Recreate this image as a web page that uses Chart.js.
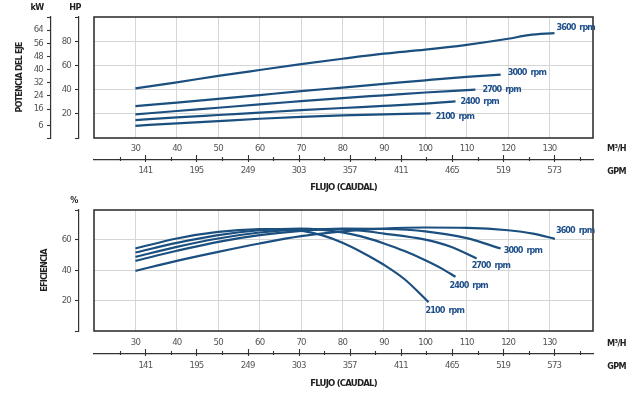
<!DOCTYPE html>
<html><head><meta charset="utf-8">
<script src="https://cdn.jsdelivr.net/npm/chart.js@4.4.1/dist/chart.umd.min.js"></script>
<style>
html,body{margin:0;padding:0;background:#fff;width:635px;height:399px;overflow:hidden;}
#wrap{position:relative;width:635px;height:399px;}
canvas{position:absolute;left:0;}
.lbl{position:absolute;font-family:'Liberation Sans Narrow','DejaVu Sans Condensed',Roboto,sans-serif;font-weight:bold;font-size:9px;letter-spacing:-0.6px;color:#222;line-height:10px;white-space:nowrap;}
.c{transform:translate(-50%,-50%);}
.r{transform:translate(-100%,-50%);}
</style></head>
<body><div id="wrap">
<canvas id="c1" width="635" height="196" style="top:0"></canvas>
<canvas id="c2" width="635" height="203" style="top:196px"></canvas>
<div class="lbl c" style="left:37px;top:7px">kW</div>
<div class="lbl c" style="left:75px;top:7px">HP</div>
<div class="lbl c" style="left:74px;top:200px">%</div>
<div class="lbl r" style="left:626px;top:148px">M³/H</div>
<div class="lbl r" style="left:626px;top:171px">GPM</div>
<div class="lbl r" style="left:626px;top:343px">M³/H</div>
<div class="lbl r" style="left:626px;top:366px">GPM</div>
</div>
<script>
const FONT = "'Liberation Sans Narrow','DejaVu Sans Condensed',Roboto,sans-serif";
Chart.defaults.font.family = FONT;

// ---------- data ----------
const RPM = ['3600 rpm', '3000 rpm', '2700 rpm', '2400 rpm', '2100 rpm'];
const FLOW_TICKS = [30, 40, 50, 60, 70, 80, 90, 100, 110, 120, 130];          // M³/H
const GPM_TICKS = [114, 141, 168, 195, 222, 249, 276, 303, 330, 357, 384, 411, 438, 465, 492, 519, 546, 573, 600];
const GPM_LABELED = [141, 195, 249, 303, 357, 411, 465, 519, 573];
const HP_TICKS = [20, 40, 60, 80];
const KW_TICKS = [6, 16, 24, 32, 40, 48, 56, 64];
const PCT_TICKS = [20, 40, 60];

// Shaft power (HP) vs flow (M³/H)
const P3600_Q = [30, 40, 50, 60, 70, 80, 90, 100, 110, 120, 125, 131.2];
const P3600_HP = [41, 46, 51.3, 56.2, 61, 65.5, 69.7, 73, 77, 82, 85, 86.7];
const P3000_Q = [30, 40, 50, 60, 70, 80, 90, 100, 110, 118.2];
const P3000_HP = [26.3, 29.3, 32.3, 35.5, 38.7, 41.7, 44.7, 47.7, 50.5, 52.4];
const P2700_Q = [30, 40, 50, 60, 70, 80, 90, 100, 112.1];
const P2700_HP = [19.5, 22.3, 25, 27.8, 30.4, 33, 35.3, 37.6, 40];
const P2400_Q = [30, 40, 50, 60, 70, 80, 90, 100, 107.3];
const P2400_HP = [14.8, 17, 19, 21, 23, 24.8, 26.5, 28.4, 30.2];
const P2100_Q = [30, 40, 50, 60, 70, 80, 90, 101.3];
const P2100_HP = [10.1, 12.1, 14, 15.9, 17.5, 18.7, 19.6, 20.3];

// Efficiency (%) vs flow (M³/H)
const E3600_Q = [30, 40, 50, 60, 70, 80, 90, 100, 110, 120, 126, 131.3];
const E3600 = [39.5, 46.1, 52, 57.5, 62.3, 65.5, 67.3, 68, 67.8, 66.2, 64, 60.5];
const E3000_Q = [30, 40, 50, 60, 70, 80, 90, 100, 110, 118.2];
const E3000 = [46.1, 52.7, 58.6, 63, 65.8, 67.2, 67, 65.5, 61, 54.2];
const E2700_Q = [30, 40, 50, 60, 70, 80, 90, 100, 106, 112.4];
const E2700 = [48.7, 55.3, 60.8, 64.7, 66.8, 67, 64, 60, 55.5, 47.7];
const E2400_Q = [30, 40, 50, 60, 70, 80, 86, 90, 95, 100, 104, 107.3];
const E2400 = [51.6, 57.9, 63, 66.2, 67.3, 64.8, 61, 57.5, 52.5, 46.5, 41, 35.6];
const E2100_Q = [30, 40, 50, 60, 65, 70, 75, 80, 85, 90, 95, 100.8];
const E2100 = [54.2, 60.8, 65.1, 66.9, 67, 66, 63, 58, 51.3, 43.5, 34, 19];

// ---------- styles ----------
const LINE = '#1b4f7f', LABEL = '#1e4f8a', GRID = '#d6d6d6', AXIS = '#333', TICK = '#555';

function pts(q, v) { return q.map((x, i) => ({ x: x, y: v[i] })); }

const condensePlugin = {
  id: 'condense',
  beforeUpdate(chart) { chart.ctx.letterSpacing = '-0.8px'; },
  beforeDraw(chart) { chart.ctx.letterSpacing = '-0.8px'; }
};
const boxPlugin = {
  id: 'box',
  beforeDatasetsDraw(chart) {
    const { ctx, chartArea: a } = chart;
    ctx.save(); ctx.strokeStyle = AXIS; ctx.lineWidth = 1.6;
    ctx.strokeRect(a.left, a.top, a.right - a.left, a.bottom - a.top);
    ctx.restore();
  }
};
const gpmTickPlugin = {
  id: 'gpmTicks',
  afterDraw(chart) {
    const s = chart.scales.gpm, ctx = chart.ctx;
    ctx.save(); ctx.strokeStyle = AXIS; ctx.lineWidth = 1.1;
    s.ticks.forEach(t => {
      const x = Math.round(s.getPixelForValue(t.value)) + 0.5;
      const major = GPM_LABELED.includes(t.value);
      ctx.beginPath(); ctx.moveTo(x, s.top - (major ? 5 : 3)); ctx.lineTo(x, s.top + (major ? 2 : 1)); ctx.stroke();
    });
    ctx.restore();
  }
};
const rpmLabelPlugin = {
  id: 'rpmLabels',
  afterDatasetsDraw(chart, args, opts) {
    const ctx = chart.ctx;
    ctx.save();
    ctx.letterSpacing = '-0.9px';
    ctx.wordSpacing = '2px';
    ctx.font = 'bold ' + opts.size + 'px ' + FONT;
    ctx.fillStyle = LABEL; ctx.textAlign = 'left'; ctx.textBaseline = 'middle';
    chart.data.datasets.forEach((d, i) => {
      const el = chart.getDatasetMeta(i).data;
      const p = el[el.length - 1];
      const o = opts.offsets[i];
      ctx.fillText(d.label, p.x + o[0], p.y + o[1]);
    });
    ctx.restore();
  }
};

function makeChart(id, cfg) {
  const yScale = {
    type: 'linear', axis: 'y', position: 'left', min: cfg.yMin, max: cfg.yMax,
    afterBuildTicks: s => { s.ticks = [cfg.yMin, ...cfg.yTicks, cfg.yMax].map(v => ({ value: v })); },
    afterFit: s => { s.width = cfg.yW; },
    grid: {
      color: c => (c.tick && (c.tick.value === cfg.yMin || c.tick.value === cfg.yMax)) ? 'rgba(0,0,0,0)' : GRID,
      drawOnChartArea: true, drawTicks: true, tickLength: 4, tickColor: AXIS, tickWidth: 1.1
    },
    border: { display: true, color: AXIS, width: 1.2 },
    ticks: { padding: 4, color: TICK, font: { size: 9.5 }, autoSkip: false, callback: v => cfg.yTicks.includes(v) ? String(v) : '' },
    title: cfg.yTitle ? { display: true, text: cfg.yTitle, color: '#222', font: { size: 9, weight: 'bold' }, padding: { top: cfg.yTitlePad, bottom: 0 } } : { display: false }
  };
  const scales = {
    x: {
      type: 'linear', axis: 'x', position: 'bottom', min: 20, max: 140.5,
      afterBuildTicks: s => { s.ticks = FLOW_TICKS.map(v => ({ value: v })); },
      afterFit: s => { s.height = cfg.xH; },
      grid: { color: GRID, lineWidth: 1, drawTicks: false },
      border: { display: false },
      ticks: { padding: cfg.xPad, color: TICK, font: { size: 9.5 }, maxRotation: 0, autoSkip: false, callback: v => String(v) }
    },
    gpm: {
      type: 'linear', axis: 'x', position: 'bottom', min: 86.7, max: 614,
      afterBuildTicks: s => { s.ticks = GPM_TICKS.map(v => ({ value: v })); },
      afterFit: s => { s.height = cfg.gH; },
      grid: { display: false, drawTicks: false },
      border: { display: true, color: AXIS, width: 1.2 },
      ticks: { padding: cfg.gPad, color: TICK, font: { size: 9.5 }, maxRotation: 0, autoSkip: false, callback: v => GPM_LABELED.includes(v) ? String(v) : '' },
      title: { display: true, text: 'FLUJO (CAUDAL)', color: '#222', font: { size: 9.5, weight: 'bold' }, padding: { top: 0, bottom: cfg.tPad } }
    },
    sp: {
      type: 'linear', axis: 'y', position: 'left',
      afterFit: s => { s.width = 15; },
      grid: { display: false, drawTicks: false }, border: { display: false }, ticks: { display: false }
    }
  };
  scales[cfg.yId] = yScale;
  if (cfg.extra) scales.kw = cfg.extra;
  return new Chart(document.getElementById(id), {
    type: 'line',
    data: {
      datasets: cfg.series.map((s, i) => ({
        label: RPM[i], data: s, xAxisID: 'x', yAxisID: cfg.yId,
        borderColor: LINE, borderWidth: 2.2, pointRadius: 0, fill: false,
        cubicInterpolationMode: 'monotone'
      }))
    },
    options: {
      responsive: false, animation: false, devicePixelRatio: 1,
      layout: { padding: { top: cfg.padTop, right: 42, bottom: 0, left: 0 } },
      plugins: { legend: { display: false }, tooltip: { enabled: false }, rpmLabels: { offsets: cfg.offsets, size: 9 } },
      scales: scales
    },
    plugins: [condensePlugin, boxPlugin, gpmTickPlugin, rpmLabelPlugin]
  });
}

const KW_MIN = -1.6, KW_MAX = 71.9;
makeChart('c1', {
  series: [pts(P3600_Q, P3600_HP), pts(P3000_Q, P3000_HP), pts(P2700_Q, P2700_HP), pts(P2400_Q, P2400_HP), pts(P2100_Q, P2100_HP)],
  yId: 'hp', yMin: 0, yMax: 100, yTicks: HP_TICKS, yW: 28,
  padTop: 17, xH: 22, xPad: 5, gH: 36, gPad: 5, tPad: 3,
  offsets: [[2, -5], [7, -2], [7, 0], [5, 0], [5, 3]],
  extra: {
    type: 'linear', axis: 'y', position: 'left', min: KW_MIN, max: KW_MAX,
    afterBuildTicks: s => { s.ticks = [KW_MIN, ...KW_TICKS, KW_MAX].map(v => ({ value: v })); },
    afterFit: s => { s.width = 51; },
    grid: { drawOnChartArea: false, drawTicks: true, tickLength: 4, tickColor: AXIS, tickWidth: 1.1 },
    border: { display: true, color: AXIS, width: 1.2 },
    ticks: { padding: 4, color: TICK, font: { size: 9.5 }, autoSkip: false, callback: v => KW_TICKS.includes(v) ? String(v) : '' },
    title: { display: true, text: 'POTENCIA DEL EJE', color: '#222', font: { size: 9, weight: 'bold' }, padding: { top: 14, bottom: 0 } }
  }
});
makeChart('c2', {
  series: [pts(E3600_Q, E3600), pts(E3000_Q, E3000), pts(E2700_Q, E2700), pts(E2400_Q, E2400), pts(E2100_Q, E2100)],
  yId: 'pct', yMin: 0, yMax: 79.5, yTicks: PCT_TICKS, yW: 79, yTitle: 'EFICIENCIA', yTitlePad: 39,
  padTop: 14, xH: 23, xPad: 6, gH: 45, gPad: 6, tPad: 10,
  offsets: [[1, -8], [3, 2], [-5, 7], [-6, 9], [-3, 9]]
});
</script>
</body></html>
